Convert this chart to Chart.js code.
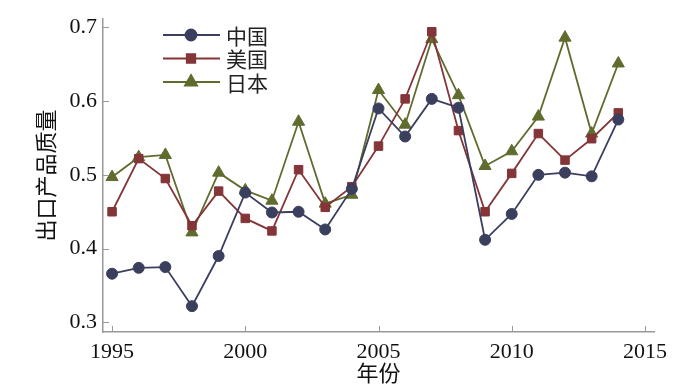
<!DOCTYPE html>
<html>
<head>
<meta charset="utf-8">
<script src="https://cdn.jsdelivr.net/npm/chart.js@4/dist/chart.umd.min.js"></script>
<style>
  html, body { margin: 0; padding: 0; background: #fff; }
  #wrap { width: 700px; height: 388px; }
</style>
</head>
<body>
<div id="wrap"><canvas id="chart-area"></canvas></div>
<script>
// data
const years = [1995, 1996, 1997, 1998, 1999, 2000, 2001, 2002, 2003, 2004,
               2005, 2006, 2007, 2008, 2009, 2010, 2011, 2012, 2013, 2014];
const china = [0.366, 0.374, 0.375, 0.322, 0.390, 0.476, 0.449, 0.450, 0.426, 0.481,
               0.590, 0.552, 0.603, 0.591, 0.412, 0.447, 0.500, 0.503, 0.498, 0.575];
const usa   = [0.450, 0.522, 0.495, 0.431, 0.478, 0.441, 0.424, 0.507, 0.456, 0.484,
               0.539, 0.603, 0.694, 0.560, 0.450, 0.502, 0.556, 0.520, 0.549, 0.584];
const japan = [0.497, 0.524, 0.527, 0.422, 0.503, 0.479, 0.465, 0.572, 0.461, 0.473,
               0.615, 0.568, 0.684, 0.608, 0.512, 0.532, 0.579, 0.686, 0.556, 0.651];
const seriesNames = ['中国', '美国', '日本'];
const xTicks = [1995, 2000, 2005, 2010, 2015];
const yTicks = [0.3, 0.4, 0.5, 0.6, 0.7];

const cjk = '"Noto Sans CJK SC", sans-serif';
const serif = '"Liberation Serif", "DejaVu Serif", serif';
const axisColor = '#999999';

function pts(arr) {
  return arr.map((v, i) => ({ x: years[i], y: v }));
}

// legend drawn as line + marker, like the original
const lineLegend = {
  id: 'lineLegend',
  afterDraw(chart) {
    const ctx = chart.ctx;
    ctx.save();
    chart.data.datasets.forEach((ds, i) => {
      const y = 35 + i * 23.5;
      ctx.strokeStyle = ds.borderColor;
      ctx.lineWidth = ds.borderWidth;
      ctx.beginPath();
      ctx.moveTo(163, y);
      ctx.lineTo(220, y);
      ctx.stroke();
      Chart.helpers.drawPoint(ctx, {
        pointStyle: ds.pointStyle,
        radius: ds.pointRadius,
        borderWidth: 1
      }, 191, y);
      ctx.fillStyle = ds.backgroundColor;
      ctx.strokeStyle = ds.borderColor;
      ctx.fill();
      ctx.fillStyle = '#222';
      ctx.font = '21px ' + cjk;
      ctx.textAlign = 'left';
      ctx.textBaseline = 'middle';
      ctx.fillText(ds.label, 226, y + 1);
    });
    ctx.restore();
  }
};

// short ticks pointing into the plot
const innerTicks = {
  id: 'innerTicks',
  afterDraw(chart) {
    const ctx = chart.ctx;
    const xs = chart.scales.x, ys = chart.scales.y;
    ctx.save();
    ctx.strokeStyle = axisColor;
    ctx.lineWidth = 1;
    xTicks.forEach(v => {
      const px = Math.round(xs.getPixelForValue(v)) + 0.5;
      ctx.beginPath();
      ctx.moveTo(px, ys.bottom);
      ctx.lineTo(px, ys.bottom - 6);
      ctx.stroke();
    });
    yTicks.forEach(v => {
      const py = Math.round(ys.getPixelForValue(v)) + 0.5;
      ctx.beginPath();
      ctx.moveTo(xs.left, py);
      ctx.lineTo(xs.left + 6, py);
      ctx.stroke();
    });
    ctx.restore();
  }
};

const colors = ['#3b3f5e', '#833538', '#5f6c2e'];
const styles = ['circle', 'rect', 'triangle'];
const radii = [5.5, 6, 7];
const values = [china, usa, japan];

const ctx = document.getElementById('chart-area').getContext('2d');
const chart = new Chart(ctx, {
  type: 'line',
  data: {
    datasets: values.map((arr, i) => ({
      label: seriesNames[i],
      data: pts(arr),
      borderColor: colors[i],
      backgroundColor: colors[i],
      borderWidth: 1.8,
      pointStyle: styles[i],
      pointRadius: radii[i],
      pointBorderWidth: 1,
      tension: 0,
      clip: false
    }))
  },
  options: {
    responsive: true,
    maintainAspectRatio: false,
    animation: false,
    layout: { padding: { top: 13, right: 46, left: 0, bottom: 0 } },
    plugins: {
      legend: { display: false },
      tooltip: { enabled: false }
    },
    scales: {
      x: {
        type: 'linear',
        min: 1994.66,
        max: 2015.34,
        afterBuildTicks(scale) { scale.ticks = xTicks.map(v => ({ value: v })); },
        afterFit(scale) { scale.height = 56; },
        grid: { display: false, drawTicks: false },
        border: { display: true, color: axisColor, width: 1.5 },
        ticks: {
          padding: 7,
          color: '#111',
          font: { family: serif, size: 22 },
          maxRotation: 0,
          callback: v => String(v)
        },
        title: {
          display: true,
          text: '年份',
          color: '#111',
          font: { family: cjk, size: 22, lineHeight: 1.2 },
          padding: { top: 0, bottom: 2 }
        }
      },
      y: {
        min: 0.287,
        max: 0.711,
        afterBuildTicks(scale) { scale.ticks = yTicks.map(v => ({ value: v })); },
        afterFit(scale) { scale.width = 103; },
        grid: { display: false, drawTicks: false },
        border: { display: true, color: axisColor, width: 1.5 },
        ticks: {
          padding: 6,
          color: '#111',
          font: { family: serif, size: 22 },
          callback: v => v.toFixed(1)
        },
        title: {
          display: true,
          text: '出口产品质量',
          color: '#111',
          font: { family: cjk, size: 22, lineHeight: 1.2 },
          padding: { top: 32, bottom: 0 }
        }
      }
    }
  },
  plugins: [lineLegend, innerTicks]
});
</script>
</body>
</html>
